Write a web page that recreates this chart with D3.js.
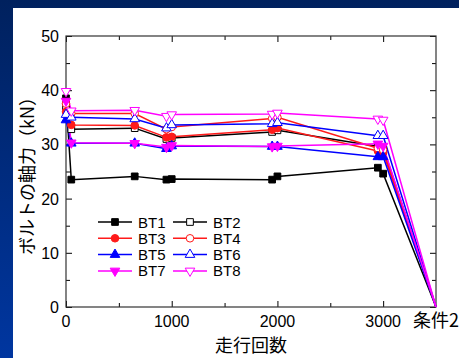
<!DOCTYPE html>
<html>
<head>
<meta charset="utf-8">
<script src="https://cdn.jsdelivr.net/npm/d3@7"></script>
<style>
  html, body { margin: 0; padding: 0; }
  body { width: 459px; height: 358px; overflow: hidden; }
  text { font-family: "Liberation Sans", Arial, sans-serif; }
  .jp { font-family: "Noto Sans CJK JP", sans-serif; }
</style>
</head>
<body>
<div id="chart"></div>
<script>
// x positions of the measurements (the last one is "条件2")
let cycles = [0, 50, 650, 950, 1000, 1950, 2000, 2950, 3000, 3500];
let seriesNames = ['BT1', 'BT2', 'BT3', 'BT4', 'BT5', 'BT6', 'BT7', 'BT8'];

let bt1 = [38.5, 23.5, 24.1, 23.5, 23.6, 23.5, 24.1, 25.7, 24.6, 0];
let bt2 = [37.0, 32.8, 33.0, 31.0, 31.2, 32.3, 32.6, 29.6, 29.4, 0];
let bt3 = [36.0, 33.6, 33.5, 31.3, 31.4, 32.7, 33.0, 28.8, 28.5, 0];
let bt4 = [37.5, 35.7, 35.7, 32.8, 33.2, 34.8, 35.0, 29.3, 29.0, 0];
let bt5 = [34.5, 30.2, 30.2, 29.2, 29.7, 29.6, 29.6, 27.7, 27.7, 0];
let bt6 = [35.5, 35.0, 34.7, 33.0, 33.6, 33.8, 34.0, 31.6, 31.6, 0];
let bt7 = [38.0, 30.3, 30.2, 29.5, 29.8, 29.6, 29.7, 30.1, 29.7, 0];
let bt8 = [39.8, 36.2, 36.3, 35.2, 35.5, 35.6, 35.8, 34.7, 34.5, 0];

let xTicks = [0, 1000, 2000, 3000];
let xTickLabels = ['0', '1000', '2000', '3000'];
let endLabel = '条件2';
let yTicks = [0, 10, 20, 30, 40, 50];

let width = 459,
    height = 358,
    plot = {left: 66, right: 436, top: 36, bottom: 307};

let styles = [
    {color: '#000000', symbol: d3.symbolSquare, fill: true, rot: 0},
    {color: '#000000', symbol: d3.symbolSquare, fill: false, rot: 0},
    {color: '#ff1a1a', symbol: d3.symbolCircle, fill: true, rot: 0},
    {color: '#ff1a1a', symbol: d3.symbolCircle, fill: false, rot: 0},
    {color: '#0000ff', symbol: d3.symbolTriangle, fill: true, rot: 0},
    {color: '#0000ff', symbol: d3.symbolTriangle, fill: false, rot: 0},
    {color: '#ff00ff', symbol: d3.symbolTriangle, fill: true, rot: 180},
    {color: '#ff00ff', symbol: d3.symbolTriangle, fill: false, rot: 180}
];

let values = [bt1, bt2, bt3, bt4, bt5, bt6, bt7, bt8];

let svg = d3.select('#chart')
    .append('svg')
    .attr('width', width)
    .attr('height', height);

// background
let defs = svg.append('defs');
let grad = defs.append('linearGradient')
    .attr('id', 'bg')
    .attr('x1', 0).attr('y1', 0).attr('x2', 0).attr('y2', 1);
grad.append('stop').attr('offset', '0%').attr('stop-color', '#00215e');
grad.append('stop').attr('offset', '100%').attr('stop-color', '#0036a0');

svg.append('rect')
    .attr('width', width)
    .attr('height', height)
    .attr('fill', 'url(#bg)');

svg.append('rect')
    .attr('x', 13)
    .attr('y', 8)
    .attr('width', width - 13)
    .attr('height', height - 8)
    .attr('fill', '#ffffff');

let x = d3.scaleLinear().domain([0, 3500]).range([plot.left, plot.right]);
let y = d3.scaleLinear().domain([0, 50]).range([plot.bottom, plot.top]);

// ticks (pointing inward on all four sides)
let xMinor = [500, 1500, 2500];
let yMinor = [5, 15, 25, 35, 45];

function drawTicks(axisFn, scale, vals, size, transform) {
    svg.append('g')
        .attr('transform', transform)
        .call(axisFn(scale).tickValues(vals).tickSize(size).tickFormat(''))
        .call(g => g.select('.domain').remove())
        .call(g => g.selectAll('line').attr('stroke', '#000').attr('stroke-width', 1));
}

drawTicks(d3.axisTop, x, xTicks, 6, 'translate(0,' + plot.bottom + ')');
drawTicks(d3.axisTop, x, xMinor, 4, 'translate(0,' + plot.bottom + ')');
drawTicks(d3.axisBottom, x, xTicks, 6, 'translate(0,' + plot.top + ')');
drawTicks(d3.axisBottom, x, xMinor, 4, 'translate(0,' + plot.top + ')');
drawTicks(d3.axisRight, y, yTicks, 6, 'translate(' + plot.left + ',0)');
drawTicks(d3.axisRight, y, yMinor, 4, 'translate(' + plot.left + ',0)');
drawTicks(d3.axisLeft, y, yTicks, 6, 'translate(' + plot.right + ',0)');
drawTicks(d3.axisLeft, y, yMinor, 4, 'translate(' + plot.right + ',0)');

// frame
svg.append('rect')
    .attr('x', plot.left)
    .attr('y', plot.top)
    .attr('width', plot.right - plot.left)
    .attr('height', plot.bottom - plot.top)
    .attr('fill', 'none')
    .attr('stroke', '#333')
    .attr('stroke-width', 1.2);

// tick labels
svg.append('g')
    .selectAll('text')
    .data(yTicks)
    .enter()
    .append('text')
    .attr('x', plot.left - 7)
    .attr('y', d => y(d) + 6)
    .attr('text-anchor', 'end')
    .attr('font-size', 16)
    .attr('fill', '#000')
    .text(d => d);

svg.append('g')
    .selectAll('text')
    .data(xTicks)
    .enter()
    .append('text')
    .attr('x', d => x(d))
    .attr('y', plot.bottom + 20)
    .attr('text-anchor', 'middle')
    .attr('font-size', 16)
    .attr('fill', '#000')
    .text((d, i) => xTickLabels[i]);

svg.append('text')
    .attr('class', 'jp')
    .attr('x', x(3500))
    .attr('y', plot.bottom + 20)
    .attr('text-anchor', 'middle')
    .attr('font-size', 18)
    .attr('fill', '#000')
    .text(endLabel);

// axis titles
svg.append('text')
    .attr('class', 'jp')
    .attr('x', (plot.left + plot.right) / 2)
    .attr('y', 352)
    .attr('text-anchor', 'middle')
    .attr('font-size', 18)
    .attr('fill', '#000')
    .text('走行回数');

svg.append('text')
    .attr('class', 'jp')
    .attr('transform', 'translate(34,' + ((plot.top + plot.bottom) / 2) + ') rotate(-90)')
    .attr('text-anchor', 'middle')
    .attr('font-size', 18)
    .attr('fill', '#000')
    .text('ボルトの軸力（kN）');

// lines
let line = d3.line()
    .x((d, i) => x(cycles[i]))
    .y(d => y(d));

values.forEach(function(vals, k) {
    svg.append('path')
        .datum(vals)
        .attr('d', line)
        .attr('fill', 'none')
        .attr('stroke', styles[k].color)
        .attr('stroke-width', 1.5);
});

function marker(g, st, px, py) {
    g.append('path')
        .attr('d', d3.symbol().type(st.symbol).size(st.symbol === d3.symbolTriangle ? 40 : 45)())
        .attr('transform', 'translate(' + px + ',' + py + ') rotate(' + st.rot + ')')
        .attr('fill', st.fill ? st.color : '#ffffff')
        .attr('stroke', st.color)
        .attr('stroke-width', 1);
}

values.forEach(function(vals, k) {
    let g = svg.append('g');
    vals.forEach(function(v, i) {
        if (i === vals.length - 1) return;
        marker(g, styles[k], x(cycles[i]), y(v));
    });
});

// legend
let legend = svg.append('g');
seriesNames.forEach(function(name, k) {
    let col = k % 2,
        row = Math.floor(k / 2);
    let lx = 98 + col * 75,
        ly = 222 + row * 16.3;
    legend.append('line')
        .attr('x1', lx).attr('x2', lx + 34)
        .attr('y1', ly).attr('y2', ly)
        .attr('stroke', styles[k].color)
        .attr('stroke-width', 1.5);
    marker(legend, styles[k], lx + 17, ly);
    legend.append('text')
        .attr('x', lx + 40)
        .attr('y', ly + 5.5)
        .attr('font-size', 15)
        .attr('fill', '#000')
        .text(name);
});
</script>
</body>
</html>
